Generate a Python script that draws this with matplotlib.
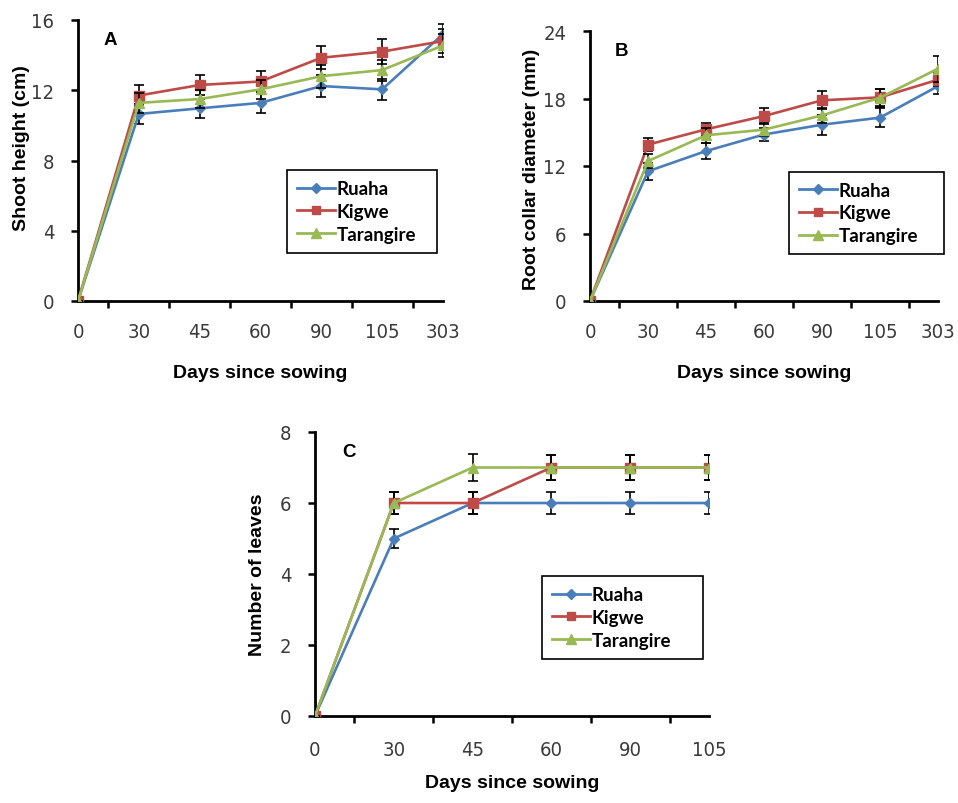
import matplotlib
matplotlib.use("Agg")
import matplotlib.pyplot as plt
from matplotlib import font_manager as fm
from matplotlib.ticker import FixedLocator, NullFormatter
from matplotlib.lines import Line2D

W, H = 958, 804

days_ab = ["0", "30", "45", "60", "90", "105", "303"]
days_c = ["0", "30", "45", "60", "90", "105"]
series_names = ["Ruaha", "Kigwe", "Tarangire"]

shoot_ruaha = [0, 10.65, 10.97, 11.28, 12.24, 12.05, 15.2]
shoot_kigwe = [0, 11.7, 12.3, 12.5, 13.85, 14.2, 14.8]
shoot_tarangire = [0, 11.28, 11.5, 12.05, 12.8, 13.15, 14.55]
shoot_err_ruaha = [0, 0.57, 0.55, 0.6, 0.6, 0.6, 0.6]
shoot_err_kigwe = [0, 0.59, 0.59, 0.6, 0.65, 0.7, 0.7]
shoot_err_tarangire = [0, 0.55, 0.5, 0.55, 0.65, 0.6, 0.65]

root_ruaha = [0, 11.53, 13.33, 14.8, 15.67, 16.3, 19.1]
root_kigwe = [0, 13.9, 15.26, 16.44, 17.84, 18.1, 19.67]
root_tarangire = [0, 12.44, 14.73, 15.23, 16.5, 18.07, 20.65]
root_err_ruaha = [0, 0.75, 0.7, 0.6, 0.9, 0.85, 0.7]
root_err_kigwe = [0, 0.55, 0.6, 0.7, 0.8, 0.75, 0.6]
root_err_tarangire = [0, 0.6, 0.65, 0.6, 0.7, 0.8, 1.15]

leaves_ruaha = [0, 5, 6, 6, 6, 6]
leaves_kigwe = [0, 6, 6, 7, 7, 7]
leaves_tarangire = [0, 6, 7, 7, 7, 7]
leaves_err_ruaha = [0, 0.26, 0.3, 0.3, 0.3, 0.3]
leaves_err_kigwe = [0, 0.3, 0.3, 0.35, 0.35, 0.35]
leaves_err_tarangire = [0, 0.3, 0.38, 0.35, 0.35, 0.35]

colors = ["#4a7ebb", "#be4b48", "#98b954"]
markers = ["D", "s", "^"]
msizes = [5.5, 6.5, 7]

installed = {f.name for f in fm.fontManager.ttflist}
if "Liberation Sans Narrow" in installed:
    tick_font = dict(family=["Liberation Sans Narrow", "DejaVu Sans"], size=15)
else:
    tick_font = dict(family=["DejaVu Sans"], stretch="condensed", size=14.5)

fig = plt.figure(figsize=(W / 100, H / 100), dpi=100)

def add_ax(l, r, t, b):
    return fig.add_axes([l / W, 1 - b / H, (r - l) / W, (b - t) / H])

lab_font = dict(family=["Liberation Sans", "DejaVu Sans"], size=14, weight="bold")

def panel(ax, box, cats, ys, errs, ymax, ystep, ylabel, letter, legend_box, xpad,
          ylab_x, ylab_y, xlab_y):
    L, R, T, B = box
    x = list(range(len(cats)))
    for i, (y, e) in enumerate(zip(ys, errs)):
        ax.errorbar(x, y, yerr=e, color=colors[i], ecolor="black", elinewidth=1.2,
                    capsize=3.8, capthick=1.2, marker=markers[i], markersize=msizes[i],
                    linewidth=1.9, label=series_names[i], zorder=3 + i)
    ax.set_xlim(0, len(cats) - 1)
    ax.set_ylim(0, ymax)
    ax.set_xticks(x)
    ax.set_xticklabels(cats, **tick_font, color="#3a3a3a")
    ax.tick_params(axis="x", which="major", length=0, pad=xpad)
    ax.xaxis.set_minor_locator(FixedLocator([i + 0.5 for i in range(len(cats) - 1)] + [len(cats) - 1]))
    ax.xaxis.set_minor_formatter(NullFormatter())
    ax.tick_params(axis="x", which="minor", length=5, width=1.8, direction="out")
    yt = list(range(0, ymax + 1, ystep))
    ax.set_yticks(yt)
    ax.set_yticklabels([str(v) for v in yt], **tick_font, color="#3a3a3a")
    ax.tick_params(axis="y", length=5, width=1.8, direction="out", pad=12)
    for s in ["top", "right"]:
        ax.spines[s].set_visible(False)
    for s in ["left", "bottom"]:
        ax.spines[s].set_linewidth(2)
    ax.set_ylabel(ylabel, **lab_font, va="center")
    ax.yaxis.set_label_coords((ylab_x - L) / (R - L), (B - ylab_y) / (B - T))
    ax.set_xlabel("Days since sowing", **lab_font, va="center")
    ax.xaxis.set_label_coords(0.5, (B - xlab_y) / (B - T))
    ax.text(0.07, 0.96, letter, transform=ax.transAxes, fontsize=13.5, fontweight="bold",
            family=["Liberation Sans", "DejaVu Sans"], va="top")
    pos = ax.get_position()
    l, t, r, b = legend_box
    bx0 = (l / W - pos.x0) / pos.width
    by0 = ((1 - b / H) - pos.y0) / pos.height
    bw = ((r - l) / W) / pos.width
    bh = ((b - t) / H) / pos.height
    hs = [Line2D([0], [0], color=colors[i], marker=markers[i], markersize=msizes[i] - 0.5, linewidth=2)
          for i in range(3)]
    leg = ax.legend(hs, series_names, loc="center", bbox_to_anchor=(bx0, by0, bw, bh),
                    mode="expand", borderaxespad=0, fancybox=False, edgecolor="black", framealpha=1,
                    prop=dict(family=["Lato", "DejaVu Sans"], size=13.5, weight="bold"),
                    handlelength=2.0, handletextpad=0.1, labelspacing=0.3, borderpad=0.55)
    leg.get_frame().set_linewidth(1.2)

boxA = (78, 443, 21, 302)
axA = add_ax(*boxA)
panel(axA, boxA, days_ab, [shoot_ruaha, shoot_kigwe, shoot_tarangire],
      [shoot_err_ruaha, shoot_err_kigwe, shoot_err_tarangire], 16, 4,
      "Shoot height (cm)", "A", (287, 171, 437, 254), 15, 22, 148, 374)

boxB = (590, 938, 32, 302)
axB = add_ax(*boxB)
panel(axB, boxB, days_ab, [root_ruaha, root_kigwe, root_tarangire],
      [root_err_ruaha, root_err_kigwe, root_err_tarangire], 24, 6,
      "Root collar diameter (mm)", "B", (789, 176, 944, 252), 15, 531, 169, 374)

boxC = (315, 709, 433, 717)
axC = add_ax(*boxC)
panel(axC, boxC, days_c, [leaves_ruaha, leaves_kigwe, leaves_tarangire],
      [leaves_err_ruaha, leaves_err_kigwe, leaves_err_tarangire], 8, 2,
      "Number of leaves", "C", (542, 577, 703, 660), 17, 258, 575, 784)

fig.savefig("out.png", dpi=100)
